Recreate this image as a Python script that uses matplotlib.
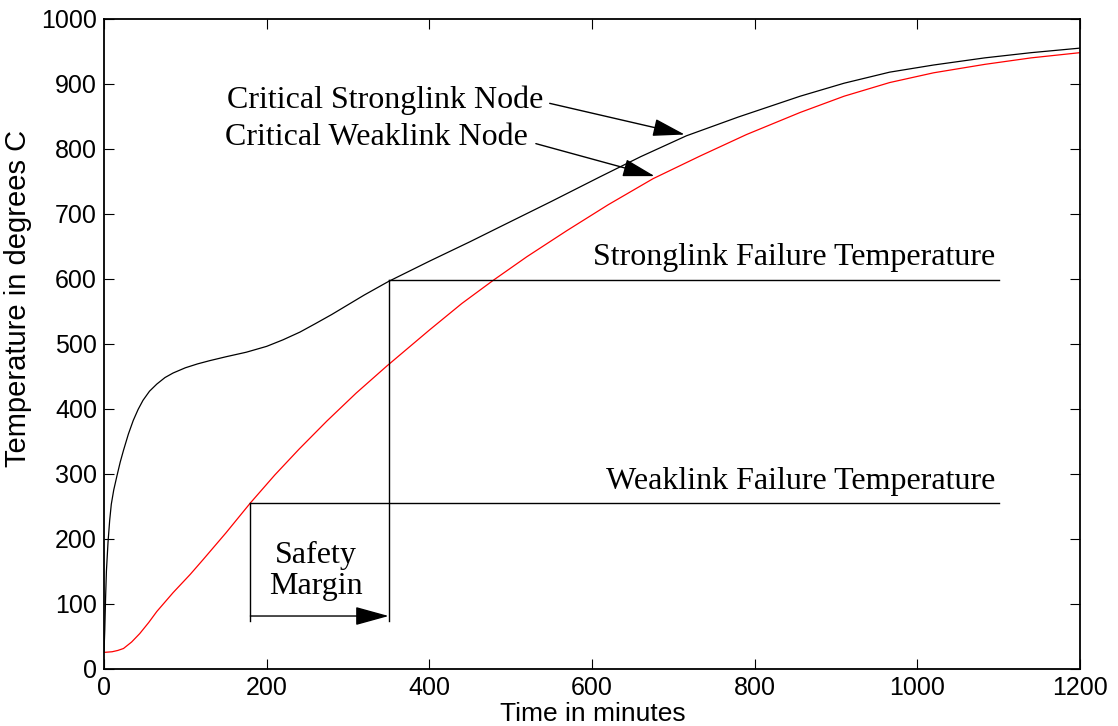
## Stronglink / Weaklink node temperatures vs time
import matplotlib
matplotlib.use("Agg")
import matplotlib.pyplot as plt

# ----- data ----- #

# Critical stronglink node (black)
strong_t = [0, 1, 2, 3, 5, 7, 9, 12, 16, 20, 24, 30, 36, 42, 48, 56, 65, 75,
            85, 100, 115, 130, 150, 175, 200, 220, 241, 260, 280, 300, 320,
            350, 400, 450, 487, 550, 610, 660, 716, 780, 856, 910, 966, 1020,
            1083, 1140, 1200]
strong_T = [25, 60, 110, 150, 195, 228, 253, 275, 297, 318, 336, 361, 382,
            399, 413, 427, 438, 448, 455, 463, 469, 474, 480, 487, 496, 506,
            518, 531, 545, 560, 575, 596, 627, 657, 680, 719, 757, 788, 820,
            849, 881, 901, 918, 929, 940, 948, 955]

# Critical weaklink node (red)
weak_t = [0, 10, 17, 24, 34, 44, 55, 65, 85, 106, 122, 150, 180, 210, 240,
          274, 310, 348, 400, 440, 479, 520, 569, 620, 675, 733, 790, 856,
          910, 966, 1020, 1083, 1140, 1200]
weak_T = [25, 26, 28, 31, 41, 54, 71, 88, 117, 145, 168, 209, 255, 298, 338,
          381, 424, 466, 521, 562, 598, 634, 674, 714, 754, 789, 822, 856,
          881, 902, 917, 930, 940, 948]

# failure temperatures and the times the nodes reach them
strong_fail = 598
weak_fail = 255
t_weak_fail = 180
t_strong_fail = 350
line_end = 1100
margin_y = 81
margin_bottom = 73

x_ticks = [0, 200, 400, 600, 800, 1000, 1200]
y_ticks = [0, 100, 200, 300, 400, 500, 600, 700, 800, 900, 1000]

serif = "Liberation Serif"
sans = "Liberation Sans"

fig = plt.figure(figsize=(11.18, 7.26), dpi=100)
ax = fig.add_axes([0.093, 0.079, 0.873, 0.895])

ax.plot(strong_t, strong_T, color="black", lw=0.9)
ax.plot(weak_t, weak_T, color="red", lw=0.9)

# failure temperature lines
ax.plot([t_strong_fail, line_end], [strong_fail, strong_fail], color="black", lw=1.0)
ax.plot([t_weak_fail, line_end], [weak_fail, weak_fail], color="black", lw=1.0)
ax.plot([t_weak_fail, t_weak_fail], [margin_bottom, weak_fail], color="black", lw=1.0)
ax.plot([t_strong_fail, t_strong_fail], [margin_bottom, strong_fail], color="black", lw=1.0)

# safety margin arrow
ax.annotate("", xy=(t_strong_fail, margin_y), xytext=(t_weak_fail, margin_y),
            arrowprops=dict(arrowstyle="-|>,head_length=2.1,head_width=0.58",
                            mutation_scale=10, color="black", lw=1.0,
                            shrinkA=0, shrinkB=0))
ax.text(261, 150, "Safety\nMargin", family=serif, fontsize=23,
        ha="center", va="center", linespacing=1.1)

# node labels with arrows
ax.annotate("", xy=(714, 822), xytext=(548, 870),
            arrowprops=dict(arrowstyle="-|>,head_length=2.0,head_width=0.55",
                            mutation_scale=10, color="black", lw=1.0,
                            shrinkA=0, shrinkB=0))
ax.annotate("", xy=(677, 758), xytext=(531, 808),
            arrowprops=dict(arrowstyle="-|>,head_length=2.0,head_width=0.55",
                            mutation_scale=10, color="black", lw=1.0,
                            shrinkA=0, shrinkB=0))
ax.text(540, 875, "Critical Stronglink Node", family=serif, fontsize=23,
        ha="right", va="center")
ax.text(521, 818, "Critical Weaklink Node", family=serif, fontsize=23,
        ha="right", va="center")

ax.text(1096, 633, "Stronglink Failure Temperature", family=serif, fontsize=23,
        ha="right", va="center")
ax.text(1096, 288, "Weaklink Failure Temperature", family=serif, fontsize=23,
        ha="right", va="center")

ax.set_xlim(0, 1200)
ax.set_ylim(0, 1000)
ax.set_xticks(x_ticks)
ax.set_yticks(y_ticks)
ax.tick_params(direction="in", length=7, width=0.8, top=True, right=True,
               labelsize=18, pad=5)
for lab in ax.get_xticklabels() + ax.get_yticklabels():
    lab.set_family(sans)
for sp in ax.spines.values():
    sp.set_linewidth(1.3)

ax.set_xlabel("Time in minutes", family=sans, fontsize=19)
ax.set_ylabel("Temperature in degrees C", family=sans, fontsize=21)
ax.xaxis.set_label_coords(0.501, -0.052)
ax.yaxis.set_label_coords(-0.074, 0.57)

fig.savefig("out.png", dpi=100)
